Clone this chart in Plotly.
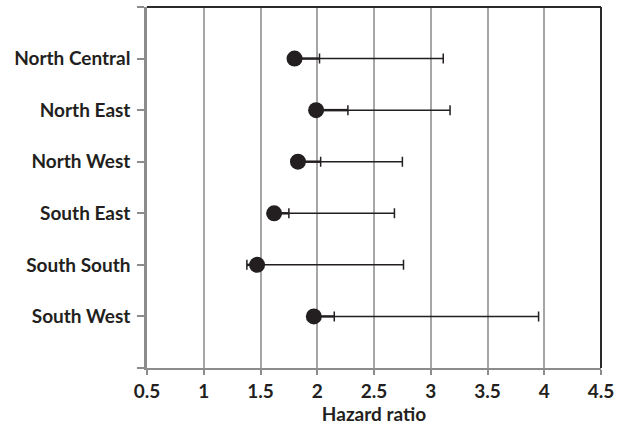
import plotly.graph_objects as go

regions = ["North Central", "North East", "North West", "South East", "South South", "South West"]
hazard_ratio = [1.80, 1.99, 1.83, 1.62, 1.47, 1.97]
ci_lower = [2.02, 2.27, 2.03, 1.75, 1.38, 2.15]
ci_upper = [3.11, 3.17, 2.75, 2.68, 2.76, 3.95]
x_ticks = [0.5, 1, 1.5, 2, 2.5, 3, 3.5, 4, 4.5]
x_tick_labels = ["0.5", "1", "1.5", "2", "2.5", "3", "3.5", "4", "4.5"]

n = len(regions)
ypos = [n - i for i in range(n)]
ink = "#231f20"
font = "Lato"

fig = go.Figure()

# whiskers (lower cap to upper cap)
mid = [(a + b) / 2 for a, b in zip(ci_lower, ci_upper)]
half = [(b - a) / 2 for a, b in zip(ci_lower, ci_upper)]
fig.add_trace(go.Scatter(
    x=mid, y=ypos, mode="markers",
    marker=dict(size=1, color="rgba(0,0,0,0)"),
    error_x=dict(type="data", array=half, symmetric=True, color=ink, thickness=1.5, width=5),
    hoverinfo="skip", showlegend=False,
))

# thicker segment from point to lower cap
sx, sy = [], []
for h, lo, y in zip(hazard_ratio, ci_lower, ypos):
    sx += [h, lo, None]
    sy += [y, y, None]
fig.add_trace(go.Scatter(x=sx, y=sy, mode="lines", line=dict(color=ink, width=2.5),
                         hoverinfo="skip", showlegend=False))

# points
fig.add_trace(go.Scatter(
    x=hazard_ratio, y=ypos, mode="markers",
    marker=dict(size=16, color=ink, line=dict(width=0)),
    showlegend=False,
))

fig.update_layout(
    width=622, height=429,
    margin=dict(l=147, r=21, t=7, b=61),
    plot_bgcolor="white", paper_bgcolor="white",
    font=dict(family=font, size=19, color=ink),
    shapes=[
        dict(type="line", xref="paper", yref="paper", x0=0, x1=1, y0=1, y1=1,
             line=dict(color="#2a2a2a", width=2)),
        dict(type="line", xref="paper", yref="paper", x0=1, x1=1, y0=0, y1=1,
             line=dict(color="#2a2a2a", width=2)),
    ],
)

fig.update_xaxes(
    range=[0.5, 4.5], tickvals=x_ticks, ticktext=x_tick_labels,
    showgrid=True, gridcolor="#a6a6a6", gridwidth=1.5,
    showline=True, linecolor="#8c8c8c", linewidth=2,
    ticks="outside", ticklen=5, tickcolor="#8c8c8c", tickwidth=1.5,
    tickfont=dict(family=font, size=19, color=ink, weight="bold"),
    title=dict(text="<b>Hazard ratio</b>", font=dict(family=font, size=19, color=ink), standoff=6),
    zeroline=False,
)
fig.update_yaxes(
    range=[0, n + 1], tickvals=[0] + ypos + [n + 1],
    ticktext=[""] + regions + [""],
    showgrid=False, zeroline=False,
    showline=True, linecolor="#8c8c8c", linewidth=2.5,
    ticks="outside", ticklen=7, tickcolor="#8c8c8c", tickwidth=1.5,
    tickfont=dict(family=font, size=19, color=ink, weight="bold"),
    ticklabelstandoff=3,
)

fig.write_html("out.html", config={"displayModeBar": False},
               post_script="document.body.style.margin='0';")
